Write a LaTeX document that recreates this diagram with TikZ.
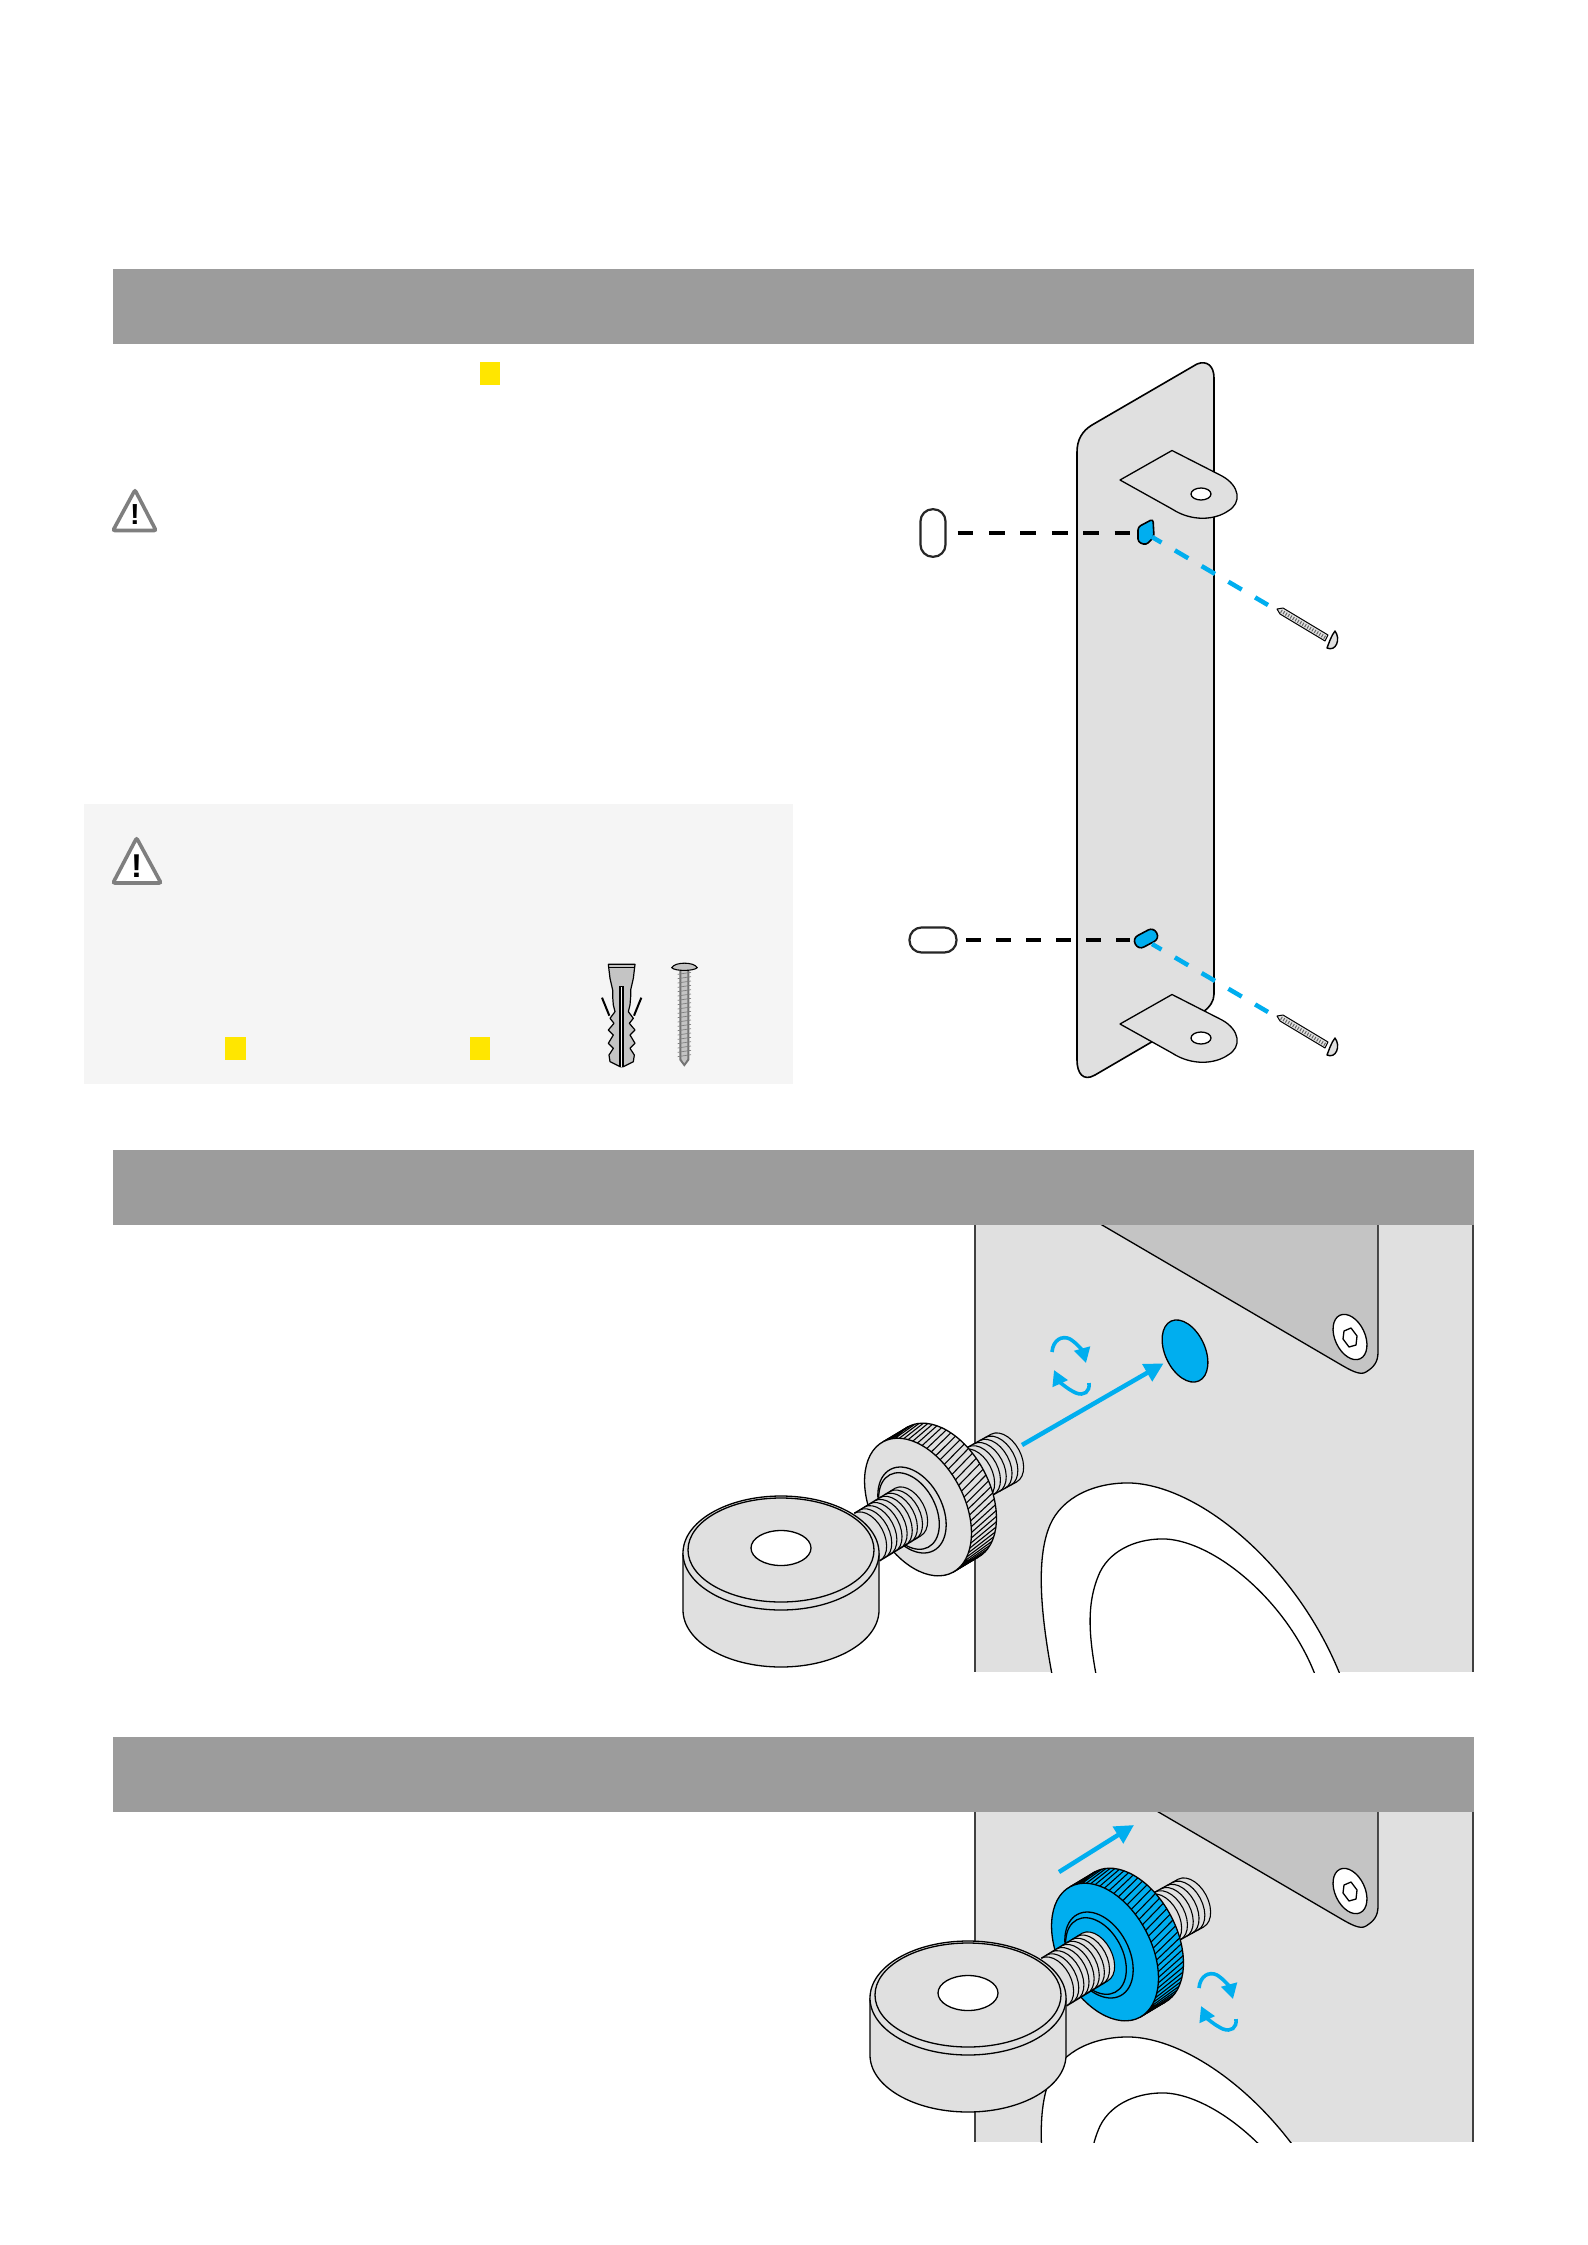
\documentclass[tikz,border=0pt]{standalone}
\usepackage{fontspec}
\setmainfont{Liberation Sans}
\usetikzlibrary{shapes.geometric, arrows.meta, positioning, calc}
\definecolor{barcol}{HTML}{9C9C9C}
\definecolor{platecol}{HTML}{E0E0E0}
\definecolor{brackcol}{HTML}{C4C4C4}
\definecolor{popcyan}{HTML}{00AEEF}
\definecolor{markcol}{HTML}{FFE600}
\definecolor{notecol}{HTML}{F5F5F5}
\definecolor{warncol}{HTML}{7F7F7F}
\tikzset{
  headbar/.style={fill=barcol},
  markbox/.style={fill=markcol},
  partline/.style={draw=black, line width=1.3pt, line join=round},
  sideline/.style={draw=black!75, line width=2pt},
  warntri/.style={draw=warncol, fill=white, line width=3.6pt, rounded corners=2pt},
  warnmark/.style={inner sep=0pt, font=\bfseries},
  slotbox/.style={draw=black!85, fill=white, line width=2.2pt, inner sep=0pt},
  blackdash/.style={draw=black, line width=3.2pt},
  bluedash/.style={draw=popcyan, line width=4.5pt, dash pattern=on 15.5pt off 15.5pt, dash phase=4.5pt},
  bluearrow/.style={draw=popcyan, line width=4.5pt, -{Triangle[length=19pt,width=19pt]}},
  turnarrow/.style={draw=popcyan, line width=3.6pt, -{Triangle[length=15pt,width=16pt]}}
}
% one ridge of a thread, seen at the tilt of the bolt
\newcommand{\ringarc}[2]{
  \draw[partline, line width=1.1pt, shift={(#1,#2)}, rotate=28] plot[domain=-90:90, samples=15] ({17*cos(\x)},{27*sin(\x)});
}
\newcommand{\threadpart}[5]{
  \fill[platecol] (#1-12.7,#2-23.8) -- (#3-12.7,#4-23.8) -- (#3+12.7,#4+23.8) -- (#1+12.7,#2+23.8) -- cycle;
  \fill[platecol, shift={(#3,#4)}, rotate=28] (0,0) ellipse[x radius=17, y radius=27];
  \draw[partline] (#1-12.7,#2-23.8) -- (#3-12.7,#4-23.8) (#1+12.7,#2+23.8) -- (#3+12.7,#4+23.8);
  \foreach \k in {0,...,#5}{
    \pgfmathsetmacro{\cx}{#1+(#3-#1)*\k/#5}
    \pgfmathsetmacro{\cy}{#2+(#4-#2)*\k/#5}
    \ringarc{\cx}{\cy}
  }
}
% bolt with eye and knurled wheel, #1 is the colour of the wheel
\newcommand{\eyebolt}[1]{
  \threadpart{975}{1474}{1004}{1458}{5}
  \foreach \s in {0,0.1,...,1.01}{
    \fill[#1, shift={(918+25*\s,1507-15*\s)}, rotate=28] (0,0) ellipse[x radius=46, y radius=74];
  }
  \foreach \t in {0,5,...,355}{
    \draw[black, line width=1.1pt] ([shift={(918,1507)}, rotate=28]\t:46 and 74) -- ([shift={(943,1492)}, rotate=28]\t-6:46 and 74);
  }
  \draw[partline] ([shift={(918,1507)}, rotate=28]90:46 and 74) -- ([shift={(943,1492)}, rotate=28]90:46 and 74);
  \draw[partline] ([shift={(918,1507)}, rotate=28]-90:46 and 74) -- ([shift={(943,1492)}, rotate=28]-90:46 and 74);
  \draw[partline, shift={(943,1492)}, rotate=28] (0,0) ellipse[x radius=46, y radius=74];
  \draw[partline, fill=#1, shift={(918,1507)}, rotate=28] (0,0) ellipse[x radius=46, y radius=74];
  \draw[partline, shift={(912,1510)}, rotate=28] (0,0) ellipse[x radius=30, y radius=46];
  \draw[partline, shift={(909,1511)}, rotate=28] (0,0) ellipse[x radius=26.5, y radius=41];
  \threadpart{867}{1537}{908}{1512}{8}
  \draw[partline, fill=platecol] (683,1553) -- (683,1610) .. controls (683,1641.5) and (727,1667) .. (781,1667)
    .. controls (835,1667) and (879,1641.5) .. (879,1610) -- (879,1553);
  \draw[partline, fill=platecol] (781,1553) ellipse[x radius=98, y radius=57];
  \draw[partline, fill=platecol] (781,1550) ellipse[x radius=93, y radius=52];
  \draw[partline, fill=white] (781,1548) ellipse[x radius=30, y radius=17.5];
}
% piece of the wall plate: top, bottom, shift of its content
\newcommand{\wallpanel}[3]{
  \begin{scope}
    \clip (975,#1) rectangle (1473,#2);
    \fill[platecol] (975,#1) rectangle (1473,#2);
    \begin{scope}[shift={(0,#3)}]
      \draw[partline, fill=brackcol] (1020,1177) -- (1338,1363) .. controls (1350,1370) and (1360,1376) .. (1366,1372)
        .. controls (1374,1367) and (1378,1362) .. (1378,1352) -- (1378,1150) -- (1020,1150) -- cycle;
      \draw[partline, fill=white, shift={(1350,1337)}, rotate=25] (0,0) ellipse[x radius=15, y radius=24];
      \draw[partline, fill=white] (1344,1331) -- (1351,1328) -- (1357,1336) -- (1356,1345) -- (1349,1347) -- (1343,1339) -- cycle;
      \fill[white] (1055,1690) .. controls (1041,1620) and (1035,1560) .. (1050,1525)
        .. controls (1062,1497) and (1095,1482) .. (1131,1483) .. controls (1200,1486) and (1295,1565) .. (1339,1672) -- (1346,1690) -- cycle;
      \draw[partline] (1055,1690) .. controls (1041,1620) and (1035,1560) .. (1050,1525)
        .. controls (1062,1497) and (1095,1482) .. (1131,1483) .. controls (1200,1486) and (1295,1565) .. (1339,1672) -- (1346,1690);
      \draw[partline] (1099,1690) .. controls (1089,1640) and (1085,1605) .. (1100,1572)
        .. controls (1112,1548) and (1140,1538) .. (1166,1539) .. controls (1215,1542) and (1285,1600) .. (1314,1672) -- (1321,1690);
    \end{scope}
  \end{scope}
  \draw[sideline] (975,#1) -- (975,#2) (1473,#1) -- (1473,#2);
}
\newcommand{\turnpair}{
  \draw[turnarrow] (1052,1352) .. controls (1053,1340) and (1062,1335) .. (1070,1339) .. controls (1078,1344) and (1083,1352) .. (1086,1363);
  \draw[turnarrow] (1089,1383) .. controls (1090,1392) and (1084,1396) .. (1076,1393) .. controls (1067,1389) and (1059,1381) .. (1054,1370);
}
% long screw of the first figure, tip at the origin of the scope
\newcommand{\longscrew}{
  \draw[partline, fill=platecol, line width=1pt] (0,0) -- (6,-1) -- (51,26) -- (48,32) -- (3,5) -- cycle;
  \draw[black!60, line width=3.5pt, dash pattern=on 1pt off 1.8pt] (4,2) -- (49,29);
  \draw[partline, fill=platecol, line width=1.4pt] (58,22) .. controls (64,30) and (59,43) .. (50,39) .. controls (52,34) and (54,27) .. (58,22) -- cycle;
}
\begin{document}
\begin{tikzpicture}[x=1pt, y=-1pt]
  \useasboundingbox (0,0) rectangle (1587,2245);
  \fill[white] (0,0) rectangle (1587,2245);
  \fill[headbar] (113,269) rectangle (1474,344);
  \fill[headbar] (113,1150) rectangle (1474,1225);
  \fill[headbar] (113,1737) rectangle (1474,1812);

  \fill[markbox] (480,362) rectangle (500,385);
  \draw[warntri] (135,490) -- (156,530.5) -- (113,530.5) -- cycle;
  \node[warnmark, font=\fontsize{29}{29}\selectfont\bfseries] (warnA) at (135,514.5) {!};

  \fill[notecol] (84,804) rectangle (793,1084);
  \draw[warntri] (136.6,838) -- (161,883) -- (113,883) -- cycle;
  \node[warnmark, font=\fontsize{33}{33}\selectfont\bfseries] (warnB) at (136.6,866) {!};
  \fill[markbox] (225,1037) rectangle (246,1060);
  \fill[markbox] (470,1037) rectangle (490,1060);

  % wall plug and short screw
  \begin{scope}[shift={(590,955)}, x=0.3333pt, y=-0.3333pt]
    \draw[partline, fill=brackcol, line width=1.2pt] (55,28) -- (135,28) -- (130,70) -- (122,105) -- (122,125) -- (120,150) -- (115,170) -- (130,190) -- (118,205)
      -- (135,225) -- (120,240) -- (135,265) -- (120,280) -- (133,300) -- (130,320) -- (100,335) -- (90,335) -- (60,320) -- (57,300) -- (70,280)
      -- (55,265) -- (70,240) -- (55,225) -- (72,205) -- (60,190) -- (75,170) -- (70,150) -- (68,125) -- (68,105) -- (60,70) -- cycle;
    \draw[black, line width=0.9pt] (55,38) -- (135,38);
    \draw[black, line width=1.2pt, fill=notecol] (90,335) -- (90,95) -- (99,95) -- (99,335);
    \draw[black, line width=2pt] (36,128) -- (58,182) (154,128) -- (132,182);
    \fill[black!55] (283,335) -- (268,315) -- (268,48) -- (298,48) -- (298,315) -- cycle;
    \fill[brackcol] (283,325) -- (274,312) -- (274,48) -- (292,48) -- (292,312) -- cycle;
    \foreach \ty in {58,71,...,310}{
      \draw[black!50, line width=0.7pt] (263,\ty) -- (303,\ty-6);
    }
    \draw[partline, fill=brackcol, line width=1.1pt] (245,38) .. controls (255,20) and (312,20) .. (322,38) .. controls (310,49) and (255,49) .. (245,38) -- cycle;
  \end{scope}

  % first figure
  \draw[partline, fill=platecol, line width=1.6pt] (1214,994) -- (1214,378) .. controls (1214,366) and (1207,360) .. (1197,364) -- (1092,425)
    .. controls (1082,431) and (1077,440) .. (1077,452) -- (1077,1060) .. controls (1077,1073) and (1083,1082) .. (1095,1075)
    -- (1203,1012) .. controls (1210,1007) and (1214,1001) .. (1214,994) -- cycle;
  \foreach \dy in {0,544}{
    \begin{scope}[shift={(0,\dy)}]
      \draw[partline, fill=platecol] (1120,480) -- (1172,450.5) -- (1222,476) .. controls (1240,486) and (1242,503) .. (1228,511)
        .. controls (1215,520) and (1192,522) .. (1172,509) -- cycle;
      \draw[partline, fill=white] (1201,494) ellipse[x radius=10, y radius=6];
    \end{scope}
  }
  \node[slotbox, minimum width=25pt, minimum height=47.5pt, rounded corners=12pt] (slotA) at (933,533) {};
  \node[slotbox, minimum width=47pt, minimum height=25pt, rounded corners=12pt] (slotB) at (933,940) {};
  \draw[partline, line width=1.6pt, fill=popcyan, rounded corners=3pt] (1138,527) -- (1153,519) -- (1154,537) -- (1146,545) -- (1138,542) -- cycle;
  \node[partline, line width=1.6pt, fill=popcyan, minimum width=24pt, minimum height=13pt, inner sep=0pt, rounded corners=6pt, rotate=28] (keyB) at (1146,938.5) {};
  \coordinate (keyAin) at (1130,533);
  \coordinate (keyBin) at (1130,940);
  \coordinate (keyAout) at (1152,537);
  \coordinate (keyBout) at (1152,944);
  \coordinate (screwA) at (1268,605);
  \coordinate (screwB) at (1268,1012);
  \draw[blackdash, dash pattern=on 15.7pt off 15.7pt, shorten <=11pt] (slotA.east) -- (keyAin);
  \draw[blackdash, dash pattern=on 15pt off 15pt, shorten <=8.5pt] (slotB.east) -- (keyBin);
  \draw[bluedash] (keyAout) -- (screwA);
  \draw[bluedash] (keyBout) -- (screwB);
  \begin{scope}[shift={(1277,609)}]
    \longscrew
  \end{scope}
  \begin{scope}[shift={(1277,1016)}]
    \longscrew
  \end{scope}

  % second figure
  \wallpanel{1225}{1672}{0}
  \eyebolt{platecol}
  \node[ellipse, partline, fill=popcyan, minimum width=40pt, minimum height=66pt, inner sep=0pt, rotate=25] (holeA) at (1185,1351) {};
  \coordinate (pushA) at (1022,1445);
  \draw[bluearrow, shorten >=4pt] (pushA) -- (holeA);
  \turnpair

  % third figure
  \wallpanel{1812}{2142}{554}
  \begin{scope}[shift={(187,445)}]
    \eyebolt{popcyan}
  \end{scope}
  \coordinate (pushB) at (1059,1872);
  \coordinate (pushBend) at (1134,1825);
  \draw[bluearrow] (pushB) -- (pushBend);
  \begin{scope}[shift={(147,636)}]
    \turnpair
  \end{scope}
\end{tikzpicture}
\end{document}
